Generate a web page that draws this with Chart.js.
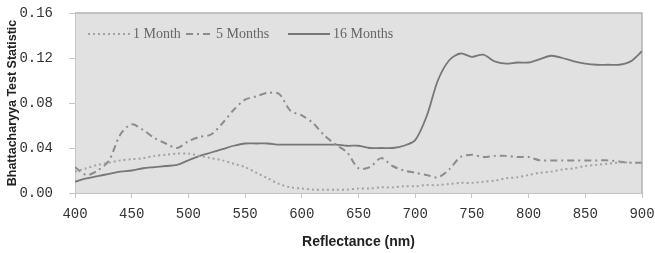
<!DOCTYPE html>
<html lang="en">
<head>
  <meta charset="UTF-8">
  <title>Bhattacharyya Test Statistic</title>
  <script src="https://cdn.jsdelivr.net/npm/chart.js"></script>
  <style>
    body { margin: 0; background: #fff; }
    #wrap { width: 655px; height: 253px; }
  </style>
</head>
<body>
  <div id="wrap"><canvas id="bChart" width="655" height="253"></canvas></div>
  <script>
    // wavelength (nm), 10 nm steps
    const wavelengths = [400, 410, 420, 430, 440, 450, 460, 470, 480, 490,
      500, 510, 520, 530, 540, 550, 560, 570, 580, 590,
      600, 610, 620, 630, 640, 650, 660, 670, 680, 690,
      700, 710, 720, 730, 740, 750, 760, 770, 780, 790,
      800, 810, 820, 830, 840, 850, 860, 870, 880, 890, 900];

    const oneMonth = [0.019, 0.022, 0.025, 0.027, 0.029, 0.030, 0.031, 0.033, 0.034, 0.035,
      0.035, 0.033, 0.031, 0.029, 0.026, 0.023, 0.018, 0.013, 0.008, 0.005,
      0.004, 0.003, 0.003, 0.003, 0.003, 0.004, 0.004, 0.005, 0.005, 0.006,
      0.006, 0.007, 0.007, 0.008, 0.009, 0.009, 0.010, 0.011, 0.013, 0.014,
      0.016, 0.018, 0.019, 0.021, 0.022, 0.024, 0.025, 0.026, 0.027, 0.027, 0.027];

    const fiveMonths = [0.023, 0.016, 0.020, 0.029, 0.052, 0.061, 0.056, 0.049, 0.044, 0.040,
      0.046, 0.050, 0.052, 0.062, 0.074, 0.083, 0.086, 0.089, 0.088, 0.073,
      0.069, 0.062, 0.051, 0.043, 0.036, 0.022, 0.023, 0.031, 0.024, 0.020,
      0.018, 0.016, 0.014, 0.021, 0.032, 0.034, 0.032, 0.033, 0.033, 0.032,
      0.032, 0.029, 0.029, 0.029, 0.029, 0.029, 0.029, 0.029, 0.028, 0.027, 0.027];

    const sixteenMonths = [0.010, 0.013, 0.015, 0.017, 0.019, 0.020, 0.022, 0.023, 0.024, 0.025,
      0.029, 0.033, 0.036, 0.039, 0.042, 0.044, 0.044, 0.044, 0.043, 0.043,
      0.043, 0.043, 0.043, 0.043, 0.042, 0.042, 0.040, 0.040, 0.040, 0.042,
      0.047, 0.068, 0.100, 0.118, 0.124, 0.121, 0.123, 0.117, 0.115, 0.116,
      0.116, 0.119, 0.122, 0.120, 0.117, 0.115, 0.114, 0.114, 0.114, 0.117, 0.126];

    const seriesNames = ['1 Month', '5 Months', '16 Months'];
    const yTicks = [0, 0.04, 0.08, 0.12, 0.16];

    const toPoints = arr => arr.map((v, i) => ({ x: wavelengths[i], y: v }));

    // grey plot background + frame
    const plotBg = {
      id: 'plotBg',
      beforeDraw(chart) {
        const { ctx, chartArea: a } = chart;
        ctx.save();
        ctx.fillStyle = '#e1e1e1';
        ctx.fillRect(a.left, a.top, a.right - a.left, a.bottom - a.top);
        ctx.strokeStyle = '#b4b4b4';
        ctx.lineWidth = 1.5;
        ctx.beginPath();
        ctx.moveTo(a.left, a.top);
        ctx.lineTo(a.right, a.top);
        ctx.lineTo(a.right, a.bottom);
        ctx.stroke();
        ctx.restore();
      }
    };

    // legend drawn inside the plot area, top-left
    const sampleStart = [13, 111, 213];
    const sampleLen = [42, 27, 42];
    const innerLegend = {
      id: 'innerLegend',
      afterDatasetsDraw(chart) {
        const { ctx, chartArea: a } = chart;
        const y = a.top + 21;
        ctx.save();
        ctx.font = '14px "Liberation Serif"';
        ctx.textBaseline = 'middle';
        chart.data.datasets.forEach((ds, i) => {
          const x = a.left + sampleStart[i];
          ctx.strokeStyle = ds.borderColor;
          ctx.lineWidth = ds.borderWidth;
          ctx.setLineDash(ds.borderDash || []);
          ctx.beginPath();
          ctx.moveTo(x, y);
          ctx.lineTo(x + sampleLen[i], y);
          ctx.stroke();
          ctx.setLineDash([]);
          ctx.fillStyle = '#666';
          ctx.fillText(ds.label, x + sampleLen[i] + 3, y);
        });
        ctx.restore();
      }
    };

    new Chart(document.getElementById('bChart'), {
      type: 'line',
      data: {
        datasets: [
          {
            label: seriesNames[0],
            data: toPoints(oneMonth),
            borderColor: '#a2a2a2',
            borderWidth: 2,
            borderDash: [2, 3],
            pointRadius: 0,
            tension: 0.3
          },
          {
            label: seriesNames[1],
            data: toPoints(fiveMonths),
            borderColor: '#8c8c8c',
            borderWidth: 2,
            borderDash: [7, 4, 2, 4],
            pointRadius: 0,
            tension: 0.3
          },
          {
            label: seriesNames[2],
            data: toPoints(sixteenMonths),
            borderColor: '#777',
            borderWidth: 1.8,
            pointRadius: 0,
            tension: 0.3
          }
        ]
      },
      options: {
        responsive: false,
        animation: false,
        layout: { padding: { top: 13, right: 13, left: 0, bottom: 0 } },
        plugins: {
          legend: { display: false },
          tooltip: { enabled: false }
        },
        scales: {
          x: {
            type: 'linear',
            min: 400,
            max: 900,
            afterFit(scale) {
              scale.height = 60;
              scale.paddingLeft = 0;
              scale.paddingRight = 0;
            },
            ticks: {
              stepSize: 50,
              padding: 8,
              maxRotation: 0,
              color: '#333',
              font: { family: '"Liberation Mono"', size: 14 }
            },
            grid: { drawOnChartArea: false, tickLength: 5, color: '#c4c4c4' },
            border: { color: '#c4c4c4' },
            title: {
              display: true,
              text: 'Reflectance (nm)',
              color: '#222',
              font: { family: '"Liberation Sans"', size: 14, weight: 'bold' },
              padding: { top: 0, bottom: 2 }
            }
          },
          y: {
            min: 0,
            max: 0.16,
            afterFit(scale) {
              scale.width = 75;
              scale.paddingTop = 0;
              scale.paddingBottom = 0;
            },
            afterBuildTicks(scale) { scale.ticks = yTicks.map(v => ({ value: v })); },
            ticks: {
              padding: 16,
              color: '#333',
              font: { family: '"Liberation Mono"', size: 14 },
              callback: v => v.toFixed(2)
            },
            grid: { drawOnChartArea: false, tickLength: 6, color: '#c4c4c4' },
            border: { color: '#c4c4c4' },
            title: {
              display: true,
              text: 'Bhattacharyya Test Statistic',
              color: '#222',
              font: { family: '"Liberation Sans"', size: 12.5, weight: 'bold' },
              padding: { top: 5, bottom: 0 }
            }
          }
        }
      },
      plugins: [plotBg, innerLegend]
    });
  </script>
</body>
</html>
